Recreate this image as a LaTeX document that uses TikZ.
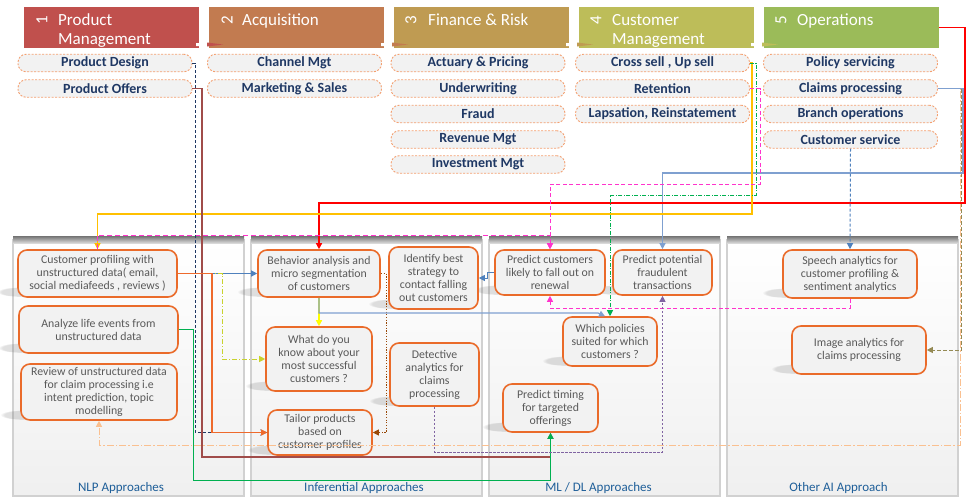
\documentclass[tikz,border=0pt]{standalone}
\usepackage{fontspec}
\usepackage{graphicx}
\setmainfont{Carlito}
\usetikzlibrary{arrows.meta,calc,fadings}
\definecolor{hA}{HTML}{C0504D}
\definecolor{hB}{HTML}{C27B50}
\definecolor{hC}{HTML}{BF9B52}
\definecolor{hD}{HTML}{BDBD59}
\definecolor{hE}{HTML}{9BBB59}
\definecolor{subor}{HTML}{F4A071}
\definecolor{subfill}{HTML}{F2F2F2}
\definecolor{subtxt}{HTML}{1F3864}
\definecolor{boxor}{HTML}{EA6B2A}
\definecolor{boxfill}{HTML}{F2F2F2}
\definecolor{boxtxt}{HTML}{595959}
\definecolor{plblc}{HTML}{1F5F99}
\definecolor{lnnavy}{HTML}{1F3864}
\definecolor{lndred}{HTML}{A04C4A}
\definecolor{lnorange}{HTML}{EE6A2C}
\definecolor{lnblue}{HTML}{4F81BD}
\definecolor{lnlblue}{HTML}{7FA0D0}
\definecolor{lnyg}{HTML}{C8D22E}
\definecolor{lngreen}{HTML}{00B050}
\definecolor{lnpale}{HTML}{FAC090}
\definecolor{lnolive}{HTML}{948A54}
\definecolor{lnred}{RGB}{255,0,0}
\definecolor{lnyel}{HTML}{FFC000}
\definecolor{lnmag}{HTML}{FF33CC}
\definecolor{lnbrown}{HTML}{984807}
\definecolor{lnpurple}{HTML}{8064A2}
\definecolor{lnyellow}{HTML}{FFFF00}
\pgfdeclarelayer{bgl}
\pgfdeclarelayer{shl}
\pgfsetlayers{bgl,shl,main}
\begin{document}
\begin{tikzpicture}[x=1pt,y=-1pt,
  hdr/.style={minimum width=175pt, minimum height=41pt, inner sep=0pt},
  htxt/.style={text=white, inner sep=0pt, font=\fontsize{17}{19}\selectfont},
  sub/.style={draw=subor, dash pattern=on 2pt off 1.5pt, line width=0.9pt, rounded corners=8pt,
     fill=subfill, minimum width=174pt, minimum height=17.5pt, inner sep=0pt,
     font=\bfseries\fontsize{14}{15}\selectfont, text=subtxt},
  bx/.style={draw=boxor, line width=1.6pt, rounded corners=9pt, fill=boxfill, inner sep=0pt,
     align=center, font=\fontsize{11.8}{13}\selectfont, text=boxtxt},
  plbl/.style={text=plblc, inner sep=0pt, font=\fontsize{13}{15}\selectfont},
  arr/.style={-{Triangle[length=6pt,width=6pt]}},
  conn/.style={line width=1pt}
]
\useasboundingbox (0,0) rectangle (966,501);
\begin{pgfonlayer}{bgl}
\fill[white] (0,0) rectangle (966,501);
% panels
\foreach \xa/\xb in {13/244, 251/482, 489/720, 727/958} {
  \shade[top color=white, bottom color=black!6] (\xa,240) rectangle (\xb,496);
  \draw[black!18, line width=1.2pt] (\xa,240) rectangle (\xb,496);
  \shade[top color=black!55, bottom color=black!15] (\xa,236) rectangle (\xb,243);
}
\end{pgfonlayer}
\node[plbl] (l1) at (121,488) {NLP Approaches};
\node[plbl] (l2) at (364,488) {Inferential Approaches};
\node[plbl] (l3) at (598.5,488) {ML / DL Approaches};
\node[plbl] (l4) at (838.5,488) {Other AI Approach};

% headers
\node[hdr, fill=hA] (h1) at (111.5,27.5) {};
\node[hdr, fill=hB] (h2) at (296.5,27.5) {};
\node[hdr, fill=hC] (h3) at (481.5,27.5) {};
\node[hdr, fill=hD] (h4) at (666.5,27.5) {};
\node[hdr, fill=hE] (h5) at (851,27.5) {};
\foreach \x/\c in {199/hA, 384/hB, 569/hC, 754/hD} {
  \fill[white] (\x-3,43) -- (\x+6,43) -- (\x+9,44.5) -- (\x+6,46) -- (\x-3,46) -- cycle;
  \fill[\c] (\x+8,42.5) -- (\x+24,44.5) -- (\x+8,46.5) -- cycle;
}
\node[htxt] (h1n) at (42,20.5) {\rotatebox{90}{1}};
\node[htxt, anchor=base west] (h1a) at (58,25) {Product};
\node[htxt, anchor=base west] (h1b) at (58,44) {Management};
\node[htxt] (h2n) at (227,20.5) {\rotatebox{90}{2}};
\node[htxt, anchor=base west] (h2a) at (242,25) {Acquisition};
\node[htxt] (h3n) at (411,20.5) {\rotatebox{90}{3}};
\node[htxt, anchor=base west] (h3a) at (428,25) {Finance \& Risk};
\node[htxt] (h4n) at (596,20.5) {\rotatebox{90}{4}};
\node[htxt, anchor=base west] (h4a) at (612,25) {Customer};
\node[htxt, anchor=base west] (h4b) at (612,44) {Management};
\node[htxt] (h5n) at (781,20.5) {\rotatebox{90}{5}};
\node[htxt, anchor=base west] (h5a) at (797,25) {Operations};

% sub items
\node[sub] (pd) at (105,63) {Product Design};
\node[sub] (po) at (105,88.5) {Product Offers};
\node[sub] (cm) at (294.5,63) {Channel Mgt};
\node[sub] (ms) at (294.5,88.5) {Marketing \& Sales};
\node[sub] (ap) at (478,63) {Actuary \& Pricing};
\node[sub] (uw) at (478,88.5) {Underwriting};
\node[sub] (fr) at (478,114) {Fraud};
\node[sub] (rm) at (478,139.5) {Revenue Mgt};
\node[sub] (im) at (478,164.5) {Investment Mgt};
\node[sub] (cs) at (662.5,63) {Cross sell , Up sell};
\node[sub] (ret) at (662.5,88.5) {Retention};
\node[sub] (lr) at (662.5,114) {Lapsation, Reinstatement};
\node[sub] (ps) at (850.5,63) {Policy servicing};
\node[sub] (cp) at (850.5,88.5) {Claims processing};
\node[sub] (bo) at (850.5,114) {Branch operations};
\node[sub] (csv) at (850.5,139.5) {Customer service};

% boxes
\node[bx, minimum width=159pt, minimum height=47pt] (a1) at (97.5,273.5) {Customer profiling with\\unstructured data( email,\\social mediafeeds , reviews )};
\node[bx, minimum width=159pt, minimum height=47pt] (a2) at (98.5,329.5) {Analyze life events from\\unstructured data};
\node[bx, minimum width=156pt, minimum height=56pt] (a3) at (99,392) {Review of unstructured data\\for claim processing i.e\\intent prediction, topic\\modelling};
\node[bx, minimum width=122pt, minimum height=47pt] (b1) at (319,273.5) {Behavior analysis and\\micro segmentation\\of customers};
\node[bx, minimum width=89pt, minimum height=62pt] (b2) at (433.5,278) {Identify best\\strategy to\\contact falling\\out customers};
\node[bx, minimum width=106pt, minimum height=64pt] (b3) at (319,359) {What do you\\know about your\\most successful\\customers ?};
\node[bx, minimum width=89pt, minimum height=63pt] (b4) at (434.5,374.5) {Detective\\analytics for\\claims\\processing};
\node[bx, minimum width=104pt, minimum height=45pt] (b5) at (320,432.5) {Tailor products\\based on\\customer profiles};
\node[bx, minimum width=110pt, minimum height=45pt] (c1) at (550,272.5) {Predict customers\\likely to fall out on\\renewal};
\node[bx, minimum width=99pt, minimum height=45pt] (c2) at (662.5,272.5) {Predict potential\\fraudulent\\transactions};
\node[bx, minimum width=94pt, minimum height=49pt] (c3) at (610,341.5) {Which policies\\suited for which\\customers ?};
\node[bx, minimum width=95pt, minimum height=48pt] (c4) at (550.5,408) {Predict timing\\for targeted\\offerings};
\node[bx, minimum width=134pt, minimum height=48pt] (d1) at (850,274) {Speech analytics for\\customer profiling \&\\sentiment analytics};
\node[bx, minimum width=134pt, minimum height=48pt] (d2) at (859,350) {Image analytics for\\claims processing};

% soft shadows
\begin{pgfonlayer}{shl}
\foreach \n in {a1,a2,a3,b1,b2,b3,b4,b5,c1,c2,c3,c4,d1,d2} {
  \fill[black!60, opacity=0.2, path fading=circle with fuzzy edge 20 percent]
     ($(\n.south west)+(2,-6)$) ellipse [x radius=22, y radius=5];
}
\end{pgfonlayer}

% connectors
\draw[conn, lnpale, dash pattern=on 7pt off 2pt on 1.5pt off 2pt, arr] (cp.east) -| (960,445) -| (a3.south);
\draw[conn, lnolive, dash pattern=on 4pt off 2pt, arr] (cp.east) -| (961.5,350) -- (d2.east);
\draw[conn, lnlblue, line width=1.3pt, arr] (cp.east) -| (963,173) -| (c2.north);
\draw[conn, draw=lnred, line width=1.3pt, arr] (h5.east) -| (965,203) -| (b1.north);
\draw[conn, lnyel, line width=1.2pt, arr] (cs.east) -| (752,214) -| (a1.north);
\draw[conn, lngreen, dash pattern=on 4pt off 1.5pt on 1pt off 1.5pt, arr] (cs.east) -| (756,195) -| (c3.north);
\draw[conn, lnmag, dash pattern=on 4pt off 2.5pt, arr] (ret.east) -| (760,184) -| (c1.north);
\draw[conn, lnmag, dash pattern=on 5pt off 3pt, arr] (a1.north) |- (550,235) -- (c1.north);
\draw[conn, lnmag, dash pattern=on 4pt off 2.5pt, arr] (d1.south) |- (550,308) -- (c1.south);
\draw[conn, lnblue, dash pattern=on 3pt off 2pt, arr] (csv.south) -- (d1.north);
\draw[conn, lnnavy, dash pattern=on 3pt off 2pt, -{Stealth[length=7pt,width=6pt]}] (pd.east) -| (195,432.5) -- (b5.west);
\draw[conn, lndred, line width=1.2pt, arr] (po.east) -| (202,457) -| (c4.south);
\draw[conn, lngreen, arr] (a2.east) -| (193,480) -| (c4.south);
\draw[conn, lnblue, line width=1.2pt, arr] (a1.east) -- (b1.west);
\draw[conn, lnyg, dash pattern=on 5pt off 2pt on 1pt off 2pt, arr] (a1.east) -| (222,359) -- (b3.west);
\draw[conn, lnorange, line width=1.2pt, arr] (a1.east) -| (212,432.5) -- (b5.west);
\draw[conn, lnbrown, dash pattern=on 1.2pt off 1.5pt, arr] (b1.east) -| (386,432.5) -- (b5.east);
\draw[conn, lnyellow, line width=1.3pt, arr] (b1.south) -- (b3.north);
\draw[conn, lnlblue, line width=1.2pt, arr] (b1.south) |- (598,313) -- ($(c3.north)+(-5,0)$);
\draw[conn, lnblue, arr] (c1.west) -- (487,272.5) |- (b2.east);
\draw[conn, lnpurple, dash pattern=on 2.5pt off 1.5pt, arr] (b4.south) |- (662.5,452) -- (c2.south);
\end{tikzpicture}
\end{document}
